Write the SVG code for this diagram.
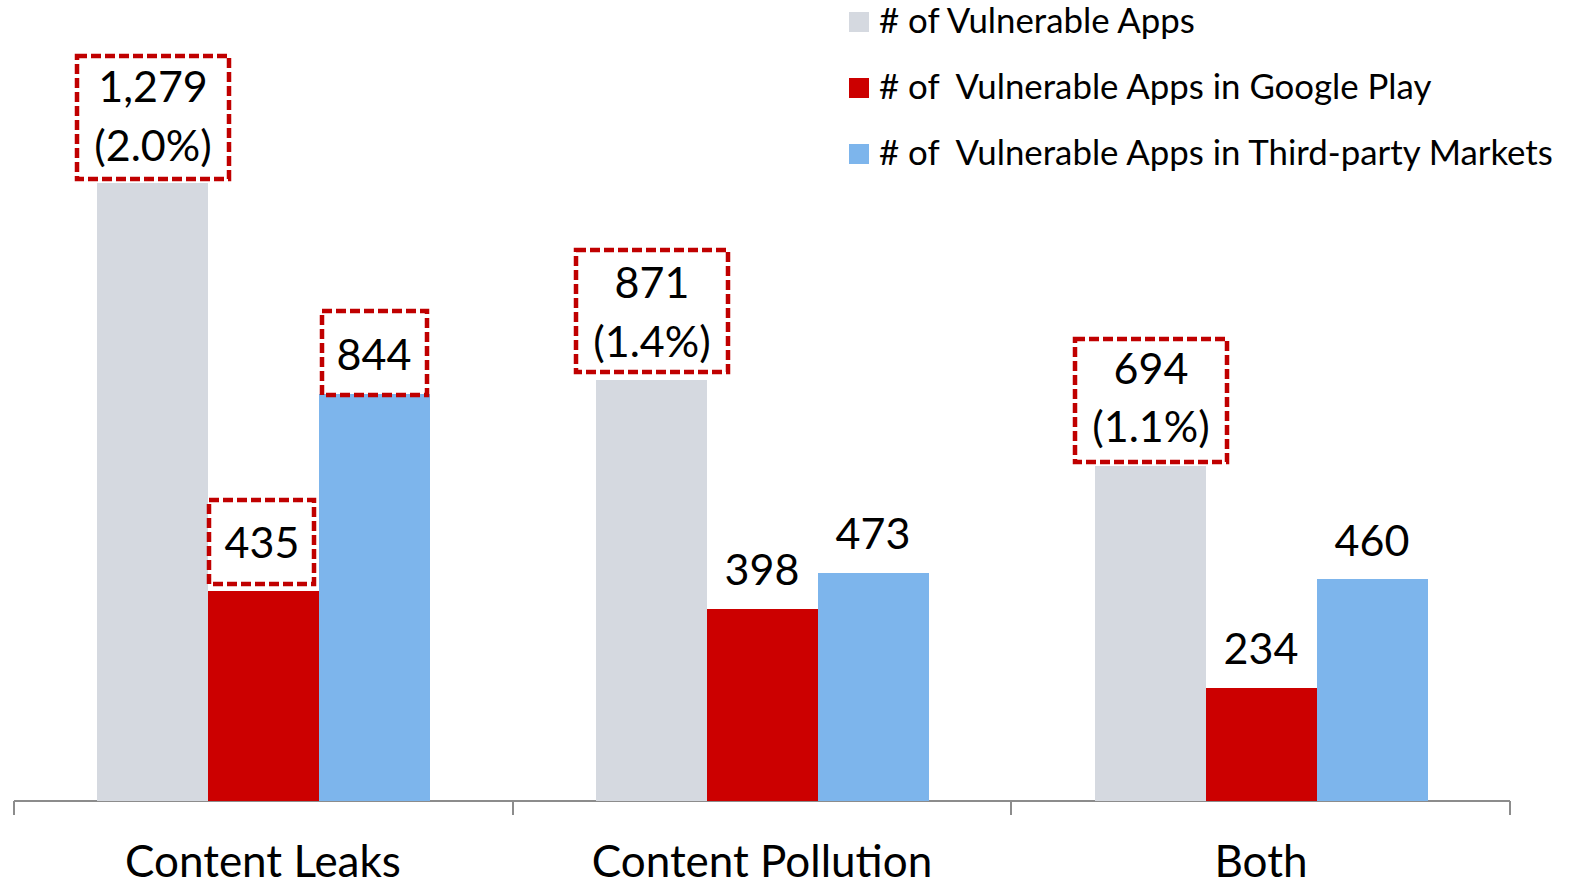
<svg xmlns="http://www.w3.org/2000/svg" width="1570" height="884" viewBox="0 0 1570 884">
<style>
text{font-family:Lato,"Liberation Sans",sans-serif;fill:#000}
.lg{font-size:34.8px;white-space:pre}
.v{font-size:43px;text-anchor:middle}
.c{font-size:44px;text-anchor:middle}
.g{fill:#D5D9E0}.r{fill:#CC0000}.b{fill:#7DB5EC}
.box{fill:none;stroke:#C00000;stroke-width:4.5;stroke-dasharray:10 4}
.ax{stroke:#8C8C8C;stroke-width:2;fill:none}
</style>
<rect width="1570" height="884" fill="#fff"/>
<g id="legend">
<rect class="g" x="849" y="12" width="20" height="20"/>
<text class="lg" x="879" y="33"># of Vulnerable Apps</text>
<rect class="r" x="849" y="78" width="20" height="20"/>
<text class="lg" x="879" y="99"># of  Vulnerable Apps in Google Play</text>
<rect class="b" x="849" y="144" width="20" height="20"/>
<text class="lg" x="879" y="165"># of  Vulnerable Apps in Third-party Markets</text>
</g>
<g id="axis">
<path class="ax" d="M14 801H1510M14 801V815M513 801V815M1011 801V815M1510 801V815"/>
</g>
<g id="content-leaks">
<rect class="g" x="97" y="183" width="111" height="618"/>
<rect class="r" x="208" y="591" width="111" height="210"/>
<rect class="b" x="319" y="394" width="111" height="407"/>
<rect class="box" x="77" y="56" width="152" height="123"/>
<text class="v" x="153" y="102">1,279</text>
<text class="v" x="153" y="161">(2.0%)</text>
<rect class="box" x="209" y="500" width="105" height="84"/>
<text class="v" x="262" y="558">435</text>
<rect class="box" x="322" y="311" width="105" height="84"/>
<text class="v" x="374" y="370">844</text>
<text class="c" x="263" y="877">Content Leaks</text>
</g>
<g id="content-pollution">
<rect class="g" x="596" y="380" width="111" height="421"/>
<rect class="r" x="707" y="609" width="111" height="192"/>
<rect class="b" x="818" y="573" width="111" height="228"/>
<rect class="box" x="576" y="250" width="152" height="122"/>
<text class="v" x="652" y="298">871</text>
<text class="v" x="652" y="357">(1.4%)</text>
<text class="v" x="762" y="585">398</text>
<text class="v" x="873" y="549">473</text>
<text class="c" x="762" y="877">Content Pollution</text>
</g>
<g id="both">
<rect class="g" x="1095" y="466" width="111" height="335"/>
<rect class="r" x="1206" y="688" width="111" height="113"/>
<rect class="b" x="1317" y="579" width="111" height="222"/>
<rect class="box" x="1075" y="339" width="152" height="123"/>
<text class="v" x="1151" y="384">694</text>
<text class="v" x="1151" y="442">(1.1%)</text>
<text class="v" x="1261" y="664">234</text>
<text class="v" x="1372" y="556">460</text>
<text class="c" x="1261" y="877">Both</text>
</g>
</svg>
